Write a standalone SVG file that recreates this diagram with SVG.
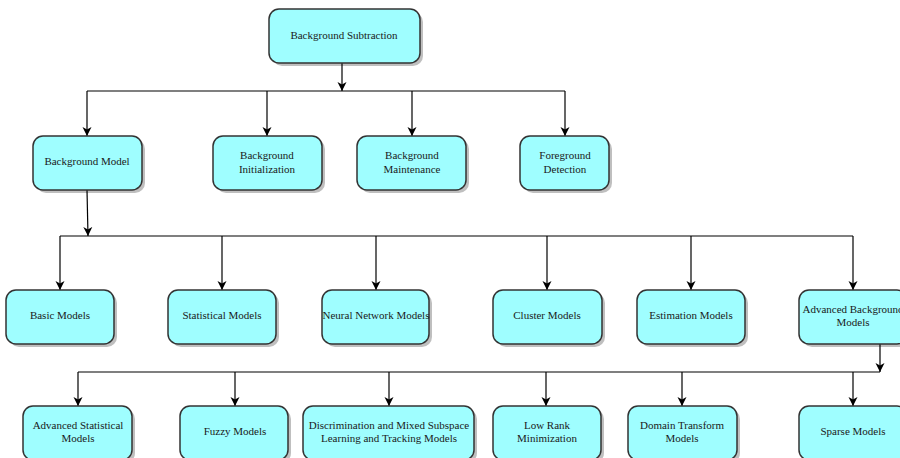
<svg xmlns="http://www.w3.org/2000/svg" width="900" height="458" viewBox="0 0 900 458">
<defs>
<marker id="arr" markerUnits="userSpaceOnUse" markerWidth="10" markerHeight="10" viewBox="0 0 10 10" refX="9" refY="5" orient="auto">
<path d="M0,0.5 L9,5 L0,9.5 L2.5,5 Z" fill="#000"/>
</marker>
</defs>
<style>
.n rect.b{fill:#9ffeff;stroke:#333;stroke-width:1.5}
.n rect.s{fill:#000;opacity:0.25}
.n text{font-family:"Liberation Serif","Times New Roman",serif;font-size:11px;fill:#1a1a1a;text-anchor:middle;dominant-baseline:central}
.c path{fill:none;stroke:#000;stroke-width:1.2}
.c path.a{marker-end:url(#arr)}
</style>
<rect width="900" height="458" fill="#fff"/>
<g class="c" id="connectors">
<path class="a" d="M342,63 V91"/>
<path d="M87,91 H565"/>
<path class="a" d="M87,91 V136"/>
<path class="a" d="M267,91 V136"/>
<path class="a" d="M412,91 V136"/>
<path class="a" d="M565,91 V136"/>
<path class="a" d="M87,190 L88,236"/>
<path d="M60,236 H853"/>
<path class="a" d="M60,236 V290"/>
<path class="a" d="M222,236 V290"/>
<path class="a" d="M376,236 V290"/>
<path class="a" d="M547,236 V290"/>
<path class="a" d="M691,236 V290"/>
<path class="a" d="M853,236 V290"/>
<path class="a" d="M880,344 V372"/>
<path d="M78,372 H880"/>
<path class="a" d="M78,372 V406"/>
<path class="a" d="M235,372 V406"/>
<path class="a" d="M389,372 V406"/>
<path class="a" d="M546,372 V406"/>
<path class="a" d="M682,372 V406"/>
<path class="a" d="M853,372 V406"/>
</g>
<g class="n" id="bg-subtraction"><rect class="s" x="272" y="12" width="151" height="54" rx="10"/><rect class="b" x="269" y="9" width="151" height="54" rx="10"/><text x="344" y="35">Background Subtraction</text></g>
<g class="n" id="bg-model"><rect class="s" x="36" y="139" width="109" height="54" rx="10"/><rect class="b" x="33" y="136" width="109" height="54" rx="10"/><text x="87" y="161">Background Model</text></g>
<g class="n" id="bg-init"><rect class="s" x="216" y="139" width="109" height="54" rx="10"/><rect class="b" x="213" y="136" width="109" height="54" rx="10"/><text x="267" y="155">Background</text><text x="267" y="169">Initialization</text></g>
<g class="n" id="bg-maint"><rect class="s" x="360" y="139" width="109" height="54" rx="10"/><rect class="b" x="357" y="136" width="109" height="54" rx="10"/><text x="412" y="155">Background</text><text x="412" y="169">Maintenance</text></g>
<g class="n" id="fg-detect"><rect class="s" x="523" y="139" width="89" height="54" rx="10"/><rect class="b" x="520" y="136" width="89" height="54" rx="10"/><text x="565" y="155">Foreground</text><text x="565" y="169">Detection</text></g>
<g class="n" id="basic"><rect class="s" x="9" y="293" width="108" height="54" rx="10"/><rect class="b" x="6" y="290" width="108" height="54" rx="10"/><text x="60" y="315">Basic Models</text></g>
<g class="n" id="statistical"><rect class="s" x="171" y="293" width="108" height="54" rx="10"/><rect class="b" x="168" y="290" width="108" height="54" rx="10"/><text x="222" y="315">Statistical Models</text></g>
<g class="n" id="neural"><rect class="s" x="325" y="293" width="107" height="54" rx="10"/><rect class="b" x="322" y="290" width="107" height="54" rx="10"/><text x="376" y="315">Neural Network Models</text></g>
<g class="n" id="cluster"><rect class="s" x="496" y="293" width="109" height="54" rx="10"/><rect class="b" x="493" y="290" width="109" height="54" rx="10"/><text x="547" y="315">Cluster Models</text></g>
<g class="n" id="estimation"><rect class="s" x="640" y="293" width="108" height="54" rx="10"/><rect class="b" x="637" y="290" width="108" height="54" rx="10"/><text x="691" y="315">Estimation Models</text></g>
<g class="n" id="advanced-bg"><rect class="s" x="802" y="293" width="108" height="54" rx="10"/><rect class="b" x="799" y="290" width="108" height="54" rx="10"/><text x="853" y="309">Advanced Background</text><text x="853" y="322">Models</text></g>
<g class="n" id="adv-statistical"><rect class="s" x="26" y="409" width="109" height="54" rx="10"/><rect class="b" x="23" y="406" width="109" height="54" rx="10"/><text x="78" y="425">Advanced Statistical</text><text x="78" y="438">Models</text></g>
<g class="n" id="fuzzy"><rect class="s" x="183" y="409" width="108" height="54" rx="10"/><rect class="b" x="180" y="406" width="108" height="54" rx="10"/><text x="235" y="431">Fuzzy Models</text></g>
<g class="n" id="discrimination"><rect class="s" x="306" y="409" width="171" height="54" rx="10"/><rect class="b" x="303" y="406" width="171" height="54" rx="10"/><text x="389" y="425">Discrimination and Mixed Subspace</text><text x="389" y="438">Learning and Tracking Models</text></g>
<g class="n" id="low-rank"><rect class="s" x="496" y="409" width="108" height="54" rx="10"/><rect class="b" x="493" y="406" width="108" height="54" rx="10"/><text x="547" y="425">Low Rank</text><text x="547" y="438">Minimization</text></g>
<g class="n" id="domain"><rect class="s" x="631" y="409" width="109" height="54" rx="10"/><rect class="b" x="628" y="406" width="109" height="54" rx="10"/><text x="682" y="425">Domain Transform</text><text x="682" y="438">Models</text></g>
<g class="n" id="sparse"><rect class="s" x="802" y="409" width="108" height="54" rx="10"/><rect class="b" x="799" y="406" width="108" height="54" rx="10"/><text x="853" y="431">Sparse Models</text></g>
</svg>
